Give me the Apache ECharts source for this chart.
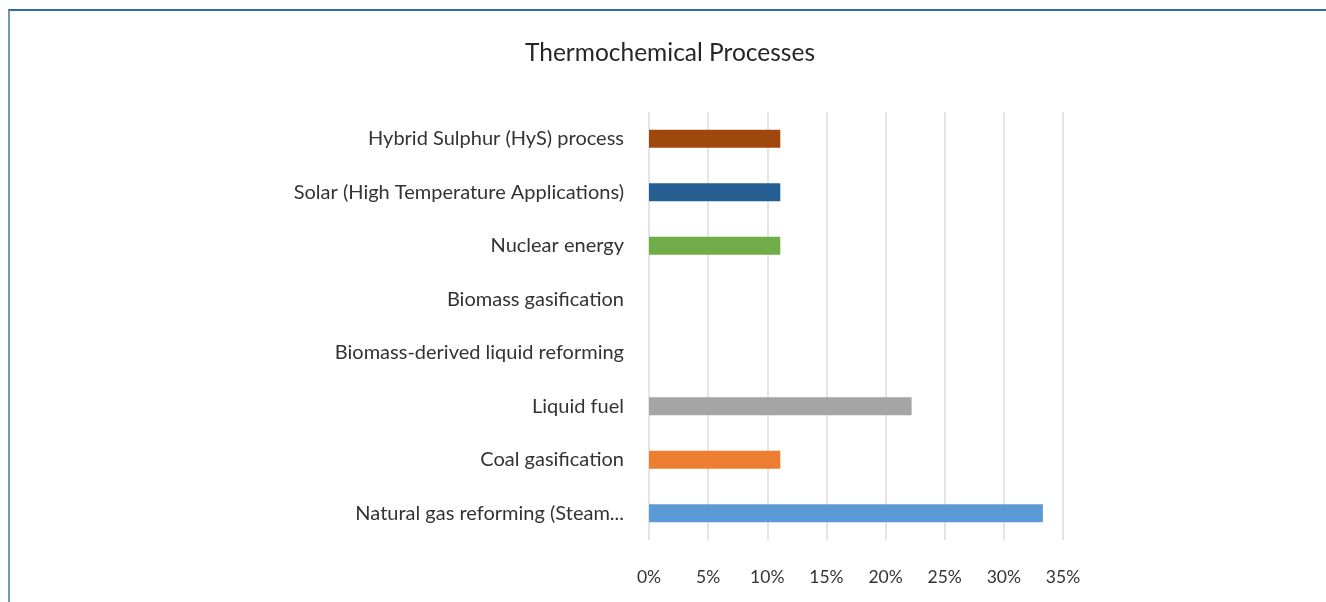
<!DOCTYPE html>
<html>
<head>
<meta charset="utf-8">
<script src="https://cdn.jsdelivr.net/npm/echarts@6/dist/echarts.min.js"></script>
<style>
  html, body { margin: 0; padding: 0; background: #fff; }
  #frame { position: absolute; left: 8px; top: 9px; width: 1318px; height: 593px;
    border-top: 2px solid #2f6c9b; border-left: 2px solid #6f98ba; box-sizing: border-box; }
  #chart { position: absolute; left: 0; top: 0; width: 1326px; height: 602px; }
</style>
</head>
<body>
<div id="frame"></div>
<div id="chart"></div>
<script>
// Thermochemical processes - share of studies per process (bottom to top)
const categories = [
  'Natural gas reforming (Steam...',
  'Coal gasification',
  'Liquid fuel',
  'Biomass-derived liquid reforming',
  'Biomass gasification',
  'Nuclear energy',
  'Solar (High Temperature Applications)',
  'Hybrid Sulphur (HyS) process'
];
const shares = [33.3, 11.1, 22.2, 0, 0, 11.1, 11.1, 11.1];
const barColors = ['#5b9bd5', '#ed7d31', '#a5a5a5', '#ffc000', '#4472c4', '#70ad47', '#255e91', '#9e480e'];
const xTicks = [0, 5, 10, 15, 20, 25, 30, 35];

const font = 'Lato, "Noto Sans", sans-serif';
const chart = echarts.init(document.getElementById('chart'));
chart.setOption({
  animation: false,
  title: {
    text: 'Thermochemical Processes', left: 665, top: 36, textAlign: 'center',
    textStyle: { fontFamily: font, fontSize: 24.5, fontWeight: 'normal', color: '#262626' }
  },
  grid: { left: 649, right: 263, top: 112, bottom: 62 },
  xAxis: {
    type: 'value', min: xTicks[0], max: xTicks[xTicks.length - 1], interval: 5,
    axisLine: { show: false }, axisTick: { show: false },
    axisLabel: { formatter: v => v + '%', margin: 28, fontFamily: font, fontSize: 17.5, color: '#333' },
    splitLine: { lineStyle: { color: '#dcdcdc', width: 1.5 } }
  },
  yAxis: {
    type: 'category', data: categories,
    axisLine: { show: false }, axisTick: { show: false },
    axisLabel: { margin: 25, fontFamily: font, fontSize: 20, color: '#333' }
  },
  series: [{
    type: 'bar', barWidth: 18,
    data: shares.map((v, i) => ({ value: v, itemStyle: { color: barColors[i] } }))
  }]
});
</script>
</body>
</html>
